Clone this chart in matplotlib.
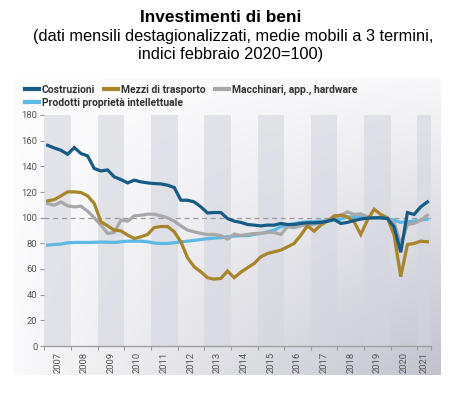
import numpy as np
import pandas as pd
import matplotlib
matplotlib.use("Agg")
import matplotlib.pyplot as plt
from matplotlib.colors import to_rgb

# quarterly points (3-month moving averages), Feb 2007 .. May 2021
dates = pd.date_range("2007-02-01", periods=58, freq="3MS")

costruzioni = [156.4, 154.3, 152.5, 149.4, 154.6, 150.0, 148.1, 138.3, 136.4, 137.2,
               131.8, 129.7, 127.1, 129.2, 127.9, 127.1, 126.6, 126.3, 125.3, 123.5,
               113.6, 113.6, 112.3, 108.4, 103.7, 104.0, 104.0, 99.3, 97.3, 96.3,
               94.7, 94.2, 93.6, 94.2, 94.2, 95.5, 94.7, 94.7, 95.5, 96.0,
               96.0, 96.3, 97.3, 98.6, 95.5, 96.3, 97.8, 98.9, 99.6, 99.9,
               99.9, 99.3, 92.9, 73.0, 104.0, 102.5, 108.4, 112.3]

mezzi_trasporto = [113.1, 114.1, 117.0, 120.1, 120.1, 119.6, 117.0, 111.0, 96.8, 93.6,
                   90.3, 89.7, 86.4, 83.8, 85.1, 86.9, 92.3, 93.1, 93.1, 89.0,
                   81.2, 68.7, 61.7, 57.8, 53.2, 52.1, 52.6, 58.4, 53.2, 57.5,
                   61.0, 64.3, 69.5, 72.1, 73.4, 74.7, 77.3, 79.9, 86.4, 93.6,
                   89.5, 94.2, 97.3, 101.4, 101.9, 100.6, 96.8, 86.9, 98.1, 106.6,
                   102.5, 99.9, 86.4, 54.0, 79.1, 79.9, 81.7, 81.2]

macchinari = [111.0, 109.7, 112.3, 109.2, 108.4, 108.9, 105.1, 99.9, 94.2, 87.7,
              88.5, 98.1, 97.3, 101.4, 101.9, 102.7, 102.7, 101.4, 99.9, 97.3,
              93.6, 90.3, 89.0, 87.7, 86.9, 86.9, 85.9, 83.3, 87.2, 86.2,
              86.9, 87.7, 87.7, 88.5, 88.5, 86.9, 92.9, 92.2, 93.6, 94.2,
              94.7, 96.3, 97.3, 99.9, 101.9, 104.5, 102.5, 103.0, 100.6, 99.9,
              99.9, 99.3, 96.3, 79.0, 94.7, 95.5, 98.1, 101.9]

prodotti_ip = [78.6, 79.1, 79.4, 80.4, 80.7, 80.7, 80.7, 80.8, 81.0, 80.9,
               80.7, 81.2, 81.7, 81.7, 81.7, 81.2, 80.2, 79.9, 79.9, 80.4,
               81.2, 81.7, 82.3, 83.0, 83.6, 84.1, 84.4, 85.1, 85.6, 86.0,
               85.9, 86.9, 87.7, 89.0, 90.3, 92.9, 94.2, 95.5, 96.3, 96.8,
               96.8, 97.3, 97.3, 98.1, 98.9, 100.6, 100.6, 100.6, 100.1, 99.9,
               99.9, 99.3, 98.1, 96.3, 96.8, 97.3, 98.1, 98.9]

labels = ["Costruzioni", "Mezzi di trasporto", "Macchinari, app., hardware",
          "Prodotti proprietà intellettuale"]
colors = ["#165a86", "#a8842a", "#a8a8a8", "#5cb9e3"]
years = list(range(2007, 2022))

t = dates.year + (dates.month - 0.5) / 12
x_end = 2021.51

W, H = 460, 394
fig = plt.figure(figsize=(W / 100, H / 100), dpi=100)
narrow = ["Liberation Sans Narrow", "Roboto", "DejaVu Sans"]

# title
fig.text(221 / W, 1 - 17 / H, "Investimenti di beni", ha="center", va="center",
         fontsize=12.4, fontweight="bold", family="Liberation Sans")
fig.text(233 / W, 1 - 37 / H,
         "(dati mensili destagionalizzati, medie mobili a 3 termini,",
         ha="center", va="center", fontsize=11.8, family="Liberation Sans")
fig.text(231 / W, 1 - 55 / H, "indici febbraio 2020=100)",
         ha="center", va="center", fontsize=11.8, family="Liberation Sans")

# gradient panel background
bg = fig.add_axes([13 / W, 1 - 375 / H, 428 / W, 297 / H], zorder=0)
nx, ny = 200, 150
xn = np.linspace(0, 1, nx)[None, :]
yn = np.linspace(0, 1, ny)[:, None]
f = np.clip(0.85 * xn * yn + 0.08 * xn + 0.05 * yn, 0, 1)[..., None]
c0 = np.array(to_rgb("#fdfdfe"))
c1 = np.array(to_rgb("#c0c1cc"))
img = c0 * (1 - f) + c1 * f
bg.imshow(img, aspect="auto", extent=[0, 1, 0, 1], interpolation="bilinear")
bg.axis("off")

ax = fig.add_axes([44.3 / W, 1 - 346 / H, (431 - 44.3) / W, 231 / H], zorder=1)
ax.patch.set_alpha(0)

for y in years[::2]:
    ax.axvspan(y, min(y + 1, x_end), color="#d4d6df", alpha=0.6, lw=0, zorder=0)

ax.axhline(100, color="#9a9a9a", lw=0.9, ls=(0, (4, 3)), zorder=1)

series = [costruzioni, mezzi_trasporto, macchinari, prodotti_ip]
order = [3, 2, 1, 0]
lines = {}
for i in order:
    ln, = ax.plot(t, series[i], color=colors[i], lw=2.3, zorder=2 + (3 - i),
                  solid_joinstyle="miter")
    lines[i] = ln

ax.set_xlim(2007, x_end)
ax.set_ylim(0, 180)
ax.set_yticks(range(0, 181, 20))
ax.set_xticks(years + [x_end])
ax.set_xticklabels([])
ax.set_xticks([y + 0.5 for y in years[:-1]] + [2021.25], minor=True)
ax.set_xticklabels([str(y) for y in years], minor=True, rotation=90,
                   fontsize=6.8, color="#555555", family=narrow)
ax.tick_params(axis="x", which="major", length=3, color="#9a9a9a", width=0.8)
ax.tick_params(axis="x", which="minor", length=0, pad=4)
ax.tick_params(axis="y", length=3, color="#9a9a9a", width=0.8, pad=2,
               labelsize=6.8, labelcolor="#555555")
for lab in ax.get_yticklabels():
    lab.set_family(narrow)
for s in ["top", "right", "left"]:
    ax.spines[s].set_visible(False)
ax.spines["bottom"].set_color("#a0a0a0")
ax.spines["bottom"].set_linewidth(1.0)

leg_kw = dict(frameon=False, borderpad=0, borderaxespad=0, handlelength=1.35,
              handletextpad=0.25, columnspacing=0.9,
              prop={"family": narrow, "weight": "bold", "size": 7.5})
leg1 = fig.legend([lines[0], lines[1], lines[2]], labels[:3], ncol=3,
                  loc="center left", bbox_to_anchor=(25 / W, 1 - 90 / H), **leg_kw)
leg2 = fig.legend([lines[3]], labels[3:], loc="center left",
                  bbox_to_anchor=(25 / W, 1 - 103 / H), **leg_kw)
for leg in (leg1, leg2):
    for txt in leg.get_texts():
        txt.set_color("#333333")
    for h in leg.legend_handles:
        h.set_linewidth(3)

fig.savefig("out.png", dpi=100)
